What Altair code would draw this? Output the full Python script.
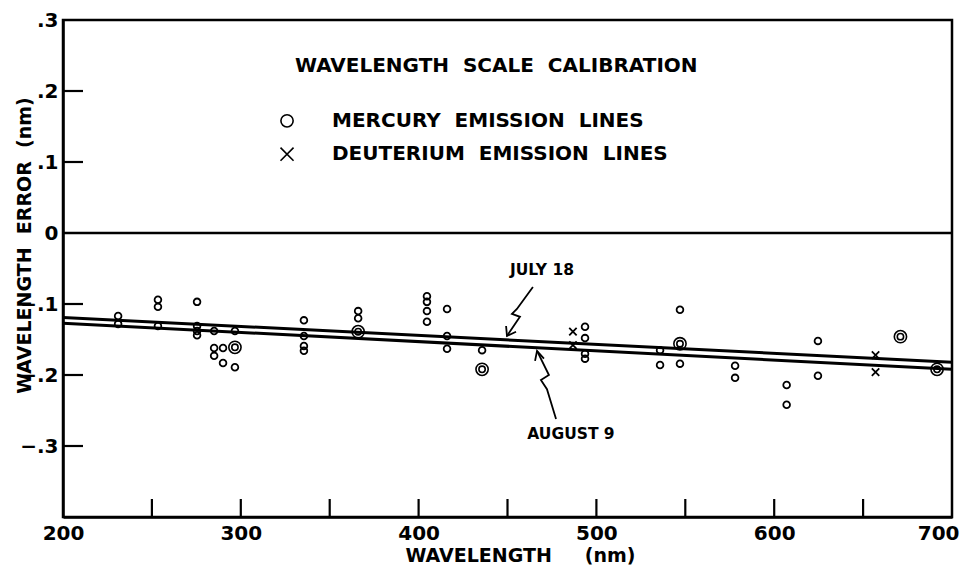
import altair as alt
import pandas as pd

# ---- data ----
hg_wl = [231, 231, 253.4, 253.4, 253.4, 275.4, 275.4, 275.4, 275.4, 285, 285, 285,
         290, 290, 296.7, 296.7, 335.5, 335.5, 335.5, 335.5, 366, 366,
         404.7, 404.7, 404.7, 404.7, 416, 416, 416, 435.7,
         493.6, 493.6, 493.6, 493.6, 535.8, 535.8, 547, 547, 578, 578,
         607, 607, 624.6, 624.6]
hg_err = [-0.117, -0.128, -0.094, -0.104, -0.131, -0.097, -0.131, -0.138, -0.144,
          -0.138, -0.162, -0.173, -0.162, -0.183, -0.138, -0.189,
          -0.123, -0.145, -0.159, -0.166, -0.110, -0.120,
          -0.089, -0.097, -0.110, -0.125, -0.107, -0.145, -0.163, -0.165,
          -0.132, -0.148, -0.170, -0.177, -0.165, -0.186, -0.108, -0.184,
          -0.187, -0.204, -0.214, -0.242, -0.152, -0.201]
ring_wl = [296.7, 366, 435.7, 547, 671, 691.6]
ring_err = [-0.161, -0.139, -0.192, -0.156, -0.146, -0.192]
d_wl = [486.8, 486.8, 657, 657]
d_err = [-0.139, -0.158, -0.172, -0.196]

fit_wl = [200, 700]
july_fit = [-0.119, -0.182]
aug_fit = [-0.127, -0.192]

y_ticks = [-0.3, -0.2, -0.1, 0.1, 0.2]
x_ticks = [250, 300, 350, 400, 450, 500, 550, 600, 650]
x_labels = [200, 300, 400, 500, 600, 700]
y_labels = [-0.3, -0.2, -0.1, 0, 0.1, 0.2, 0.3]

# annotation texts (position in data units)
note_text = ["WAVELENGTH\u00a0 SCALE\u00a0 CALIBRATION", "MERCURY\u00a0 EMISSION\u00a0 LINES",
             "DEUTERIUM\u00a0 EMISSION\u00a0 LINES"]
note_x = [330.5, 351.3, 351.3]
note_y = [0.235, 0.158, 0.111]
leg_x = [326.0]
leg_circle_y = [0.158]
leg_cross_y = [0.111]

date_text = ["JULY 18", "AUGUST 9"]
date_x = [469.4, 485.7]
date_y = [-0.052, -0.283]

# arrow paths: segment id, x, y
arrow_seg = ["j", "j", "j", "j", "j", "jh", "jh", "jh",
             "a", "a", "a", "a", "a", "ah", "ah", "ah"]
arrow_x = [464.3, 455.3, 452.5, 457.0, 449.7, 449.2, 449.7, 454.8,
           477.3, 472.2, 468.8, 473.3, 466.6, 465.5, 466.6, 470.5]
arrow_y = [-0.076, -0.107, -0.114, -0.118, -0.145, -0.131, -0.145, -0.139,
           -0.262, -0.220, -0.207, -0.200, -0.166, -0.180, -0.166, -0.177]

FONT = "DejaVu Sans"
W, H = 889, 497

xscale = alt.Scale(domain=[200, 700], nice=False, zero=False)
yscale = alt.Scale(domain=[-0.4, 0.3], nice=False, zero=False)

xaxis = alt.Axis(values=x_labels, ticks=False, grid=False, domainColor="black",
                 domainWidth=2.5, labelFont=FONT, labelFontWeight="bold",
                 labelFontSize=20, labelColor="black", labelPadding=6,
                 labelFlush=False,
                 labelAlign={"condition": {"test": "datum.value == 700", "value": "right"},
                             "value": "center"},
                 labelOffset={"condition": {"test": "datum.value == 700", "value": 7},
                              "value": 0},
                 title="WAVELENGTH\u00a0\u00a0\u00a0\u00a0\u00a0(nm)", titleFont=FONT,
                 titleFontWeight="bold", titleFontSize=19, titleColor="black",
                 titleX=457, titleY=38, titleBaseline="middle", titleAlign="center")
yaxis = alt.Axis(values=y_labels, ticks=False, grid=False, domainColor="black",
                 domainWidth=2.5, labelFont=FONT, labelFontWeight="bold",
                 labelFontSize=20, labelColor="black", labelPadding=5,
                 labelExpr="datum.value == 0 ? '0' : replace(format(datum.value, '.1f'), '0.', '.')",
                 title="WAVELENGTH\u00a0 ERROR\u00a0 (nm)", titleFont=FONT,
                 titleFontWeight="bold", titleFontSize=19, titleColor="black",
                 titleX=-39, titleY=225, titleAngle=-90, titleAlign="center",
                 titleBaseline="middle")


def X(f):
    return alt.X(f, type="quantitative", scale=xscale, axis=xaxis)


def Y(f):
    return alt.Y(f, type="quantitative", scale=yscale, axis=yaxis)


hg = pd.DataFrame({"wl": hg_wl, "err": hg_err})
rings = pd.DataFrame({"wl": ring_wl, "err": ring_err})
deut = pd.DataFrame({"wl": d_wl, "err": d_err})
fits = pd.DataFrame({
    "wl": fit_wl + fit_wl,
    "err": july_fit + aug_fit,
    "series": ["July 18"] * 2 + ["August 9"] * 2,
})
yt = pd.DataFrame({"err": y_ticks})
xt = pd.DataFrame({"wl": x_ticks})
zero = pd.DataFrame({"err": [0.0]})
notes = pd.DataFrame({"wl": note_x, "err": note_y, "t": note_text})
dates = pd.DataFrame({"wl": date_x, "err": date_y, "t": date_text})
arrows = pd.DataFrame({"seg": arrow_seg, "wl": arrow_x, "err": arrow_y,
                       "i": list(range(len(arrow_x)))})
legc = pd.DataFrame({"wl": leg_x, "err": leg_circle_y})
legx = pd.DataFrame({"wl": leg_x, "err": leg_cross_y})

XPATH = "M-1,-1L1,1M-1,1L1,-1"

zero_rule = alt.Chart(zero).mark_rule(color="black", strokeWidth=2.5).encode(y=Y("err"))
ytick = alt.Chart(yt).mark_rule(color="black", strokeWidth=2.2).encode(
    y=Y("err"), x=alt.value(0), x2=alt.value(20))
xtick = alt.Chart(xt).mark_rule(color="black", strokeWidth=2.2).encode(
    x=X("wl"), y=alt.value(H), y2=alt.value(H - 18))

fit_lines = alt.Chart(fits).mark_line(color="black", strokeWidth=3).encode(
    x=X("wl"), y=Y("err"), detail="series:N")

hg_pts = alt.Chart(hg).mark_point(shape="circle", filled=False, color="black",
                                  size=45, strokeWidth=1.8, opacity=1).encode(
    x=X("wl"), y=Y("err"))
ring_out = alt.Chart(rings).mark_point(shape="circle", filled=False, color="black",
                                       size=150, strokeWidth=1.6, opacity=1).encode(
    x=X("wl"), y=Y("err"))
ring_in = alt.Chart(rings).mark_point(shape="circle", filled=False, color="black",
                                      size=40, strokeWidth=1.6, opacity=1).encode(
    x=X("wl"), y=Y("err"))
d_pts = alt.Chart(deut).mark_point(shape=XPATH, filled=False, color="black",
                                   size=55, strokeWidth=1.8, opacity=1).encode(
    x=X("wl"), y=Y("err"))

leg_c = alt.Chart(legc).mark_point(shape="circle", filled=False, color="black",
                                   size=150, strokeWidth=1.6, opacity=1).encode(
    x=X("wl"), y=Y("err"))
leg_x_mark = alt.Chart(legx).mark_point(shape=XPATH, filled=False, color="black",
                                        size=170, strokeWidth=1.6, opacity=1).encode(
    x=X("wl"), y=Y("err"))

note_txt = alt.Chart(notes).mark_text(font=FONT, fontWeight="bold", fontSize=20,
                                      align="left", baseline="middle", color="black").encode(
    x=X("wl"), y=Y("err"), text="t:N")
date_txt = alt.Chart(dates).mark_text(font=FONT, fontWeight="bold", fontSize=15.5,
                                      align="center", baseline="middle", color="black").encode(
    x=X("wl"), y=Y("err"), text="t:N")
arrow_lines = alt.Chart(arrows).mark_line(color="black", strokeWidth=1.8).encode(
    x=X("wl"), y=Y("err"), detail="seg:N", order="i:Q")

chart = alt.layer(
    zero_rule, ytick, xtick, fit_lines, arrow_lines, hg_pts, ring_out, ring_in, d_pts,
    leg_c, leg_x_mark, note_txt, date_txt
).properties(
    width=W, height=H,
    autosize=alt.AutoSizeParams(type="none"),
    padding={"left": 55, "top": 12, "right": 8, "bottom": 48},
    background="white",
).configure_view(stroke="black", strokeWidth=2.5)

chart.save("out.html", embed_options={"renderer": "svg", "actions": False})
